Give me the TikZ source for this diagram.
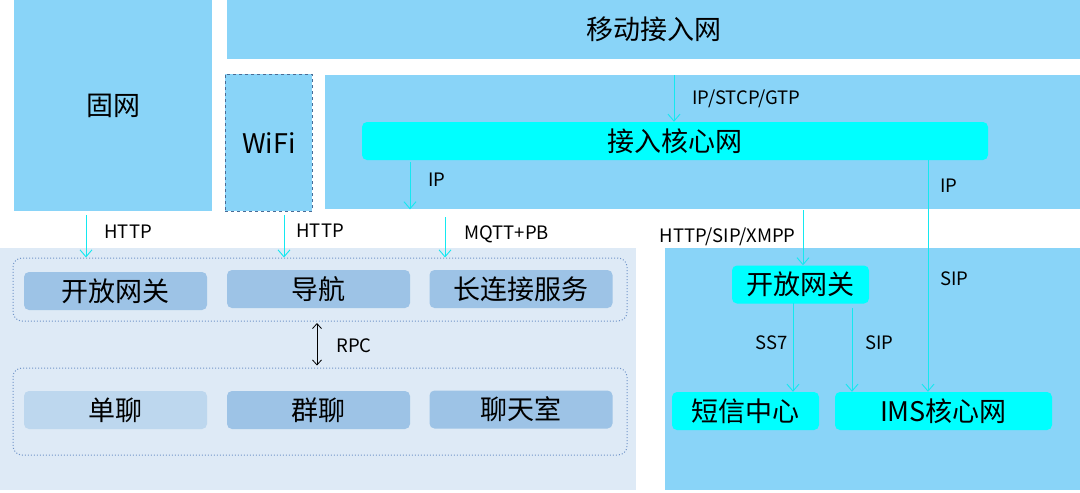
\documentclass[tikz,border=0pt]{standalone}
\usepackage{fontspec}
\setmainfont{Noto Sans CJK SC}
\usetikzlibrary{arrows.meta, positioning}

\definecolor{netblue}{RGB}{137,212,248}
\definecolor{paleblue}{RGB}{222,234,246}
\definecolor{svcblue}{RGB}{157,195,230}
\definecolor{svclight}{RGB}{189,215,238}
\definecolor{corecyan}{RGB}{0,255,255}
\definecolor{linkcyan}{RGB}{20,232,240}
\definecolor{dotblue}{RGB}{112,148,200}
\definecolor{wifiedge}{RGB}{74,108,150}

\begin{document}
\begin{tikzpicture}[x=1pt, y=-1pt,
    % Define the styles
    region/.style={fill=netblue, anchor=north west, inner sep=0pt, font=\fontsize{27}{31}\selectfont},
    box/.style={rounded corners=5pt, minimum height=38pt, inner sep=0pt, font=\fontsize{27}{31}\selectfont},
    svc/.style={box, fill=svcblue, minimum width=183pt},
    core/.style={box, fill=corecyan},
    group/.style={draw=dotblue, dotted, line width=1pt, rounded corners=9pt, inner sep=0pt},
    link/.style={draw=linkcyan, line width=0.9pt, -{Straight Barb[length=7pt,width=12pt]}},
    lbl/.style={font=\fontsize{18.5}{22}\selectfont, inner sep=0pt}
]
\useasboundingbox (0,0) rectangle (1080,493);

% Draw the access networks
\node[region, minimum width=198pt, minimum height=211pt] (fixed) at (14,0) {固网};
\node[region, minimum width=853pt, minimum height=59pt] (mobile) at (227,0) {移动接入网};
\node[region, draw=wifiedge, dashed, line width=0.8pt, minimum width=87pt, minimum height=137pt] (wifi) at (225,74) {WiFi};
\node[region, minimum width=755pt, minimum height=134pt] (corenet) at (325,75) {};
\node[core, minimum width=626pt] (core) at (675,141) {接入核心网};

% Draw the service side
\node[region, fill=paleblue, minimum width=636pt, minimum height=242pt] (im) at (0,248) {};
\node[region, minimum width=415pt, minimum height=242pt] (telco) at (665,248) {};

\node[group, minimum width=614pt, minimum height=63pt] (top) at (320,289.5) {};
\node[group, minimum width=614pt, minimum height=87pt] (bottom) at (320,411.5) {};

\node[svc] (gwl) at (115.5,291) {开放网关};
\node[svc] (nav) at (318.5,289) {导航};
\node[svc] (conn) at (521,289) {长连接服务};
\node[svc, fill=svclight] (single) at (115.5,410) {单聊};
\node[svc] (groupchat) at (318.5,410) {群聊};
\node[svc] (room) at (521,409.5) {聊天室};

\node[core, minimum width=137pt] (gwr) at (800.5,284.5) {开放网关};
\node[core, minimum width=147pt] (sms) at (745.5,411) {短信中心};
\node[core, minimum width=217pt] (ims) at (943.5,411) {IMS核心网};

% Define the arrow starts
\coordinate (h1) at (86,215);
\coordinate (h2) at (284,215);
\coordinate (mq) at (445,217);
\coordinate (ip1) at (410,162);
\coordinate (gtp) at (674,75);
\coordinate (xmpp) at (803,210);
\coordinate (ip2) at (928,160);
\coordinate (ss7) at (793,303);
\coordinate (sip) at (852,308);
\coordinate (rpc) at (317,323);

% Draw the arrows
\draw[link] (h1) -- (h1 |- top.north) node[lbl, pos=0.4, right=18pt] {HTTP};
\draw[link] (h2) -- (h2 |- top.north) node[lbl, pos=0.38, right=12pt] {HTTP};
\draw[link] (mq) -- (mq |- top.north) node[lbl, pos=0.42, right=19pt] {MQTT+PB};
\draw[link] (ip1) -- (ip1 |- corenet.south) node[lbl, pos=0.38, right=18pt] {IP};
\draw[link] (gtp) -- (gtp |- core.north) node[lbl, midway, right=18pt] {IP/STCP/GTP};
\draw[link] (xmpp) -- (xmpp |- gwr.north) node[lbl, pos=0.48, left=7pt] {HTTP/SIP/XMPP};
\draw[link] (ip2) -- (ip2 |- ims.north) node[lbl, pos=0.11, right=12pt] {IP} node[lbl, pos=0.51, right=12pt] {SIP};
\draw[link] (ss7) -- (ss7 |- sms.north) node[lbl, pos=0.45, left=5pt] {SS7};
\draw[link] (sip) -- (sip |- ims.north) node[lbl, pos=0.42, right=13pt] {SIP};
\draw[line width=0.8pt, {Straight Barb[length=5pt,width=9pt]}-{Straight Barb[length=5pt,width=9pt]}, shorten >=2pt] (rpc) -- (rpc |- bottom.north) node[lbl, midway, right=19pt] {RPC};

\end{tikzpicture}
\end{document}
